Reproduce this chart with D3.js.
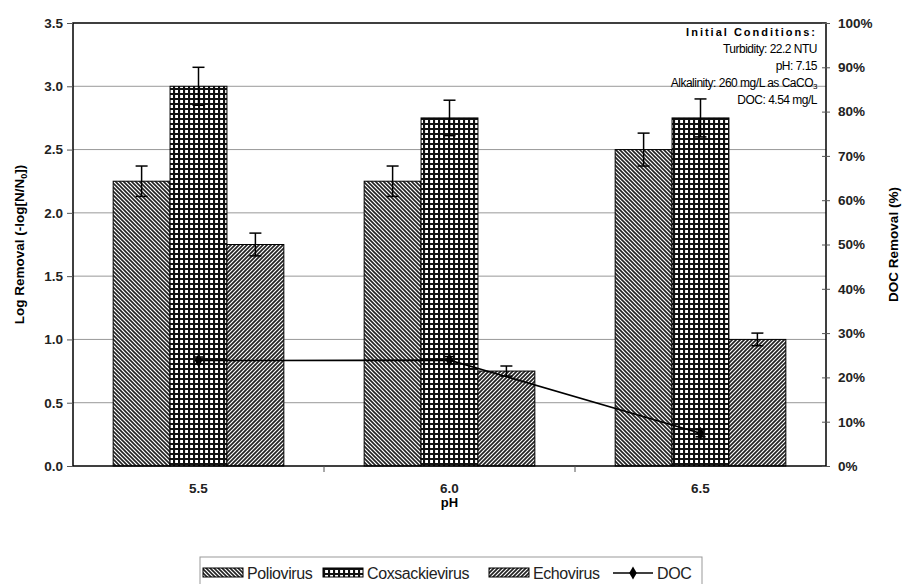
<!DOCTYPE html>
<html lang="en">
<head>
<meta charset="UTF-8">
<title>Log removal vs pH</title>
<style>
  body { margin: 0; background: #fff; }
  svg text { font-family: "Liberation Sans", Arial, sans-serif; }
</style>
</head>
<body>
<svg id="chart" width="908" height="584"></svg>
<script src="https://d3js.org/d3.v7.min.js"></script>
<script>
// data
let categories = ["5.5", "6.0", "6.5"];
let seriesNames = ["Poliovirus", "Coxsackievirus", "Echovirus"];
let polio = [2.25, 2.25, 2.5];
let polioErr = [0.12, 0.12, 0.13];
let coxsackie = [3.0, 2.75, 2.75];
let coxsackieErr = [0.15, 0.14, 0.15];
let echo = [1.75, 0.75, 1.0];
let echoErr = [0.09, 0.04, 0.05];
let doc = [23.8, 23.9, 7.4];
let docErr = [0.8, 0.8, 0.8];
let leftTicks = [0, 0.5, 1, 1.5, 2, 2.5, 3, 3.5];
let rightTicks = [0, 10, 20, 30, 40, 50, 60, 70, 80, 90, 100];
let conditions = ["Turbidity: 22.2 NTU", "pH: 7.15", "Alkalinity: 260 mg/L as CaCO", "DOC: 4.54 mg/L"];

let values = [polio, coxsackie, echo];
let errs = [polioErr, coxsackieErr, echoErr];

let margin = {top: 23, right: 82, bottom: 118, left: 73},
    width = 908 - margin.left - margin.right,
    height = 584 - margin.top - margin.bottom;

let svg = d3.select("#chart");

// fill patterns
let defs = svg.append("defs");
let p1 = defs.append("pattern").attr("id", "pat0")
    .attr("patternUnits", "userSpaceOnUse").attr("width", 4).attr("height", 4);
p1.append("rect").attr("width", 4).attr("height", 4).attr("fill", "#fff");
p1.append("path").attr("d", "M-1,-1 L5,5 M-1,3 L1,5 M3,-1 L5,1")
    .attr("stroke", "#222").attr("stroke-width", 1.6);

let p2 = defs.append("pattern").attr("id", "pat1")
    .attr("patternUnits", "userSpaceOnUse").attr("width", 5).attr("height", 5);
p2.append("rect").attr("width", 5).attr("height", 5).attr("fill", "#fff");
p2.append("path").attr("d", "M0,1 H5 M1,0 V5")
    .attr("stroke", "#111").attr("stroke-width", 2.2);

let p3 = defs.append("pattern").attr("id", "pat2")
    .attr("patternUnits", "userSpaceOnUse").attr("width", 4).attr("height", 4);
p3.append("rect").attr("width", 4).attr("height", 4).attr("fill", "#fff");
p3.append("path").attr("d", "M-1,5 L5,-1 M-1,1 L1,-1 M3,5 L5,3")
    .attr("stroke", "#222").attr("stroke-width", 1.7);

let chart = svg.append("g")
    .attr("transform", "translate(" + margin.left + "," + margin.top + ")");

let x0 = d3.scaleBand().domain(categories).range([0, width]);
let groupW = x0.bandwidth() * 0.68;
let x1 = d3.scaleBand().domain(seriesNames).range([0, groupW]);
let y = d3.scaleLinear().domain([0, 3.5]).range([height, 0]);
let y2 = d3.scaleLinear().domain([0, 100]).range([height, 0]);

// gridlines
chart.append("g")
    .selectAll("line")
    .data(leftTicks.slice(1, -1))
    .enter()
    .append("line")
    .attr("x1", 0).attr("x2", width)
    .attr("y1", d => y(d)).attr("y2", d => y(d))
    .attr("stroke", "#999").attr("stroke-width", 1);

// bars
seriesNames.forEach((s, si) => {
    let g = chart.append("g");
    let rows = categories.map((c, i) => ({c: c, v: values[si][i], e: errs[si][i]}));
    g.selectAll("rect")
        .data(rows)
        .enter()
        .append("rect")
        .attr("x", d => x0(d.c) + (x0.bandwidth() - groupW) / 2 + x1(s))
        .attr("width", x1.bandwidth())
        .attr("y", d => y(d.v))
        .attr("height", d => height - y(d.v))
        .attr("fill", "url(#pat" + si + ")")
        .attr("stroke", "#000").attr("stroke-width", 1);

    let cx = d => x0(d.c) + (x0.bandwidth() - groupW) / 2 + x1(s) + x1.bandwidth() / 2;
    let eb = g.selectAll("g.err").data(rows).enter().append("g")
        .attr("stroke", "#000").attr("stroke-width", 1.5);
    eb.append("line").attr("x1", cx).attr("x2", cx)
        .attr("y1", d => y(d.v + d.e)).attr("y2", d => y(d.v - d.e));
    eb.append("line").attr("x1", d => cx(d) - 6).attr("x2", d => cx(d) + 6)
        .attr("y1", d => y(d.v + d.e)).attr("y2", d => y(d.v + d.e));
    eb.append("line").attr("x1", d => cx(d) - 6).attr("x2", d => cx(d) + 6)
        .attr("y1", d => y(d.v - d.e)).attr("y2", d => y(d.v - d.e));
});

// DOC line
let docRows = categories.map((c, i) => ({c: c, v: doc[i], e: docErr[i]}));
let mid = d => x0(d.c) + x0.bandwidth() / 2;
chart.append("path")
    .datum(docRows)
    .attr("fill", "none")
    .attr("stroke", "#000").attr("stroke-width", 1.6)
    .attr("d", d3.line().x(mid).y(d => y2(d.v)));
let dm = chart.append("g").selectAll("g").data(docRows).enter().append("g");
dm.append("line").attr("x1", d => mid(d) - 5).attr("x2", d => mid(d) + 5)
    .attr("y1", d => y2(d.v + d.e)).attr("y2", d => y2(d.v + d.e))
    .attr("stroke", "#000").attr("stroke-width", 1.5);
dm.append("line").attr("x1", d => mid(d) - 5).attr("x2", d => mid(d) + 5)
    .attr("y1", d => y2(d.v - d.e)).attr("y2", d => y2(d.v - d.e))
    .attr("stroke", "#000").attr("stroke-width", 1.5);
dm.append("path")
    .attr("transform", d => "translate(" + mid(d) + "," + y2(d.v) + ")")
    .attr("d", d3.symbol().type(d3.symbolDiamond).size(50))
    .attr("fill", "#000");

// frame
chart.append("rect")
    .attr("width", width).attr("height", height)
    .attr("fill", "none").attr("stroke", "#000").attr("stroke-width", 1.5);

// axes
let left = chart.append("g")
    .call(d3.axisLeft(y).tickValues(leftTicks).tickFormat(d3.format(".1f")).tickSize(6).tickPadding(4));
let right = chart.append("g")
    .attr("transform", "translate(" + width + ",0)")
    .call(d3.axisRight(y2).tickValues(rightTicks).tickFormat(d => d + "%").tickSize(4).tickPadding(8));
right.selectAll(".tick line").attr("x1", -4);
let bottom = chart.append("g")
    .attr("transform", "translate(0," + height + ")")
    .call(d3.axisBottom(x0).tickSize(0).tickPadding(17));
[left, right, bottom].forEach(a => {
    a.select(".domain").remove();
    a.selectAll(".tick line").attr("stroke", "#555");
    a.selectAll("text").attr("font-size", 13.5).attr("font-weight", "bold")
        .attr("fill", "#222").style("font-family", "Liberation Sans, Arial, sans-serif");
});
// ticks between categories
chart.append("g").selectAll("line")
    .data(categories.slice(1))
    .enter()
    .append("line")
    .attr("x1", d => x0(d)).attr("x2", d => x0(d))
    .attr("y1", height).attr("y2", height + 6)
    .attr("stroke", "#555");

// axis titles
chart.append("text")
    .attr("x", width / 2).attr("y", height + 41)
    .attr("text-anchor", "middle").attr("font-size", 13).attr("font-weight", "bold")
    .text("pH");
let yl = svg.append("text")
    .attr("transform", "translate(24," + (margin.top + height / 2) + ") rotate(-90)")
    .attr("text-anchor", "middle").attr("font-size", 13.5).attr("font-weight", "bold");
yl.append("tspan").text("Log Removal (-log[N/N");
yl.append("tspan").attr("font-size", 9).attr("dy", 3).text("0");
yl.append("tspan").attr("dy", -3).text("])");
svg.append("text")
    .attr("transform", "translate(898," + (margin.top + height / 2) + ") rotate(-90)")
    .attr("text-anchor", "middle").attr("font-size", 13.5).attr("font-weight", "bold")
    .text("DOC Removal (%)");

// initial conditions box
let note = chart.append("g").attr("transform", "translate(" + (width - 9) + ",0)");
note.append("text").attr("y", 13).attr("text-anchor", "end")
    .attr("font-size", 11).attr("font-weight", "bold").attr("letter-spacing", 2)
    .text("Initial Conditions:");
note.selectAll("text.c").data(conditions).enter().append("text")
    .attr("class", "c")
    .attr("y", (d, i) => 30 + i * 17)
    .attr("text-anchor", "end").attr("font-size", 12).attr("letter-spacing", -0.5)
    .each(function(d) {
        let t = d3.select(this);
        t.append("tspan").text(d);
        if (d.endsWith("CaCO")) t.append("tspan").attr("font-size", 8).attr("dy", 2).text("3");
    });

// legend
let legend = svg.append("g").attr("transform", "translate(200,557)");
legend.append("rect").attr("x", 0).attr("y", 0).attr("width", 502).attr("height", 40)
    .attr("fill", "#fff").attr("stroke", "#999");
let legItems = seriesNames.concat(["DOC"]);
let legX = [3, 123, 289, 413];
legItems.forEach((name, i) => {
    let g = legend.append("g").attr("transform", "translate(" + legX[i] + ",16)");
    if (i < 3) {
        g.append("rect").attr("x", 0).attr("y", -5).attr("width", 40).attr("height", 9)
            .attr("fill", "url(#pat" + i + ")").attr("stroke", "#000");
    } else {
        g.append("line").attr("x1", 0).attr("x2", 40).attr("stroke", "#000").attr("stroke-width", 1.6);
        g.append("path").attr("transform", "translate(20,0)")
            .attr("d", d3.symbol().type(d3.symbolDiamond).size(50)).attr("fill", "#000");
    }
    g.append("text").attr("x", 44).attr("y", 6).attr("font-size", 16)
        .attr("letter-spacing", -0.4).attr("fill", "#222").text(name);
});
</script>
</body>
</html>
